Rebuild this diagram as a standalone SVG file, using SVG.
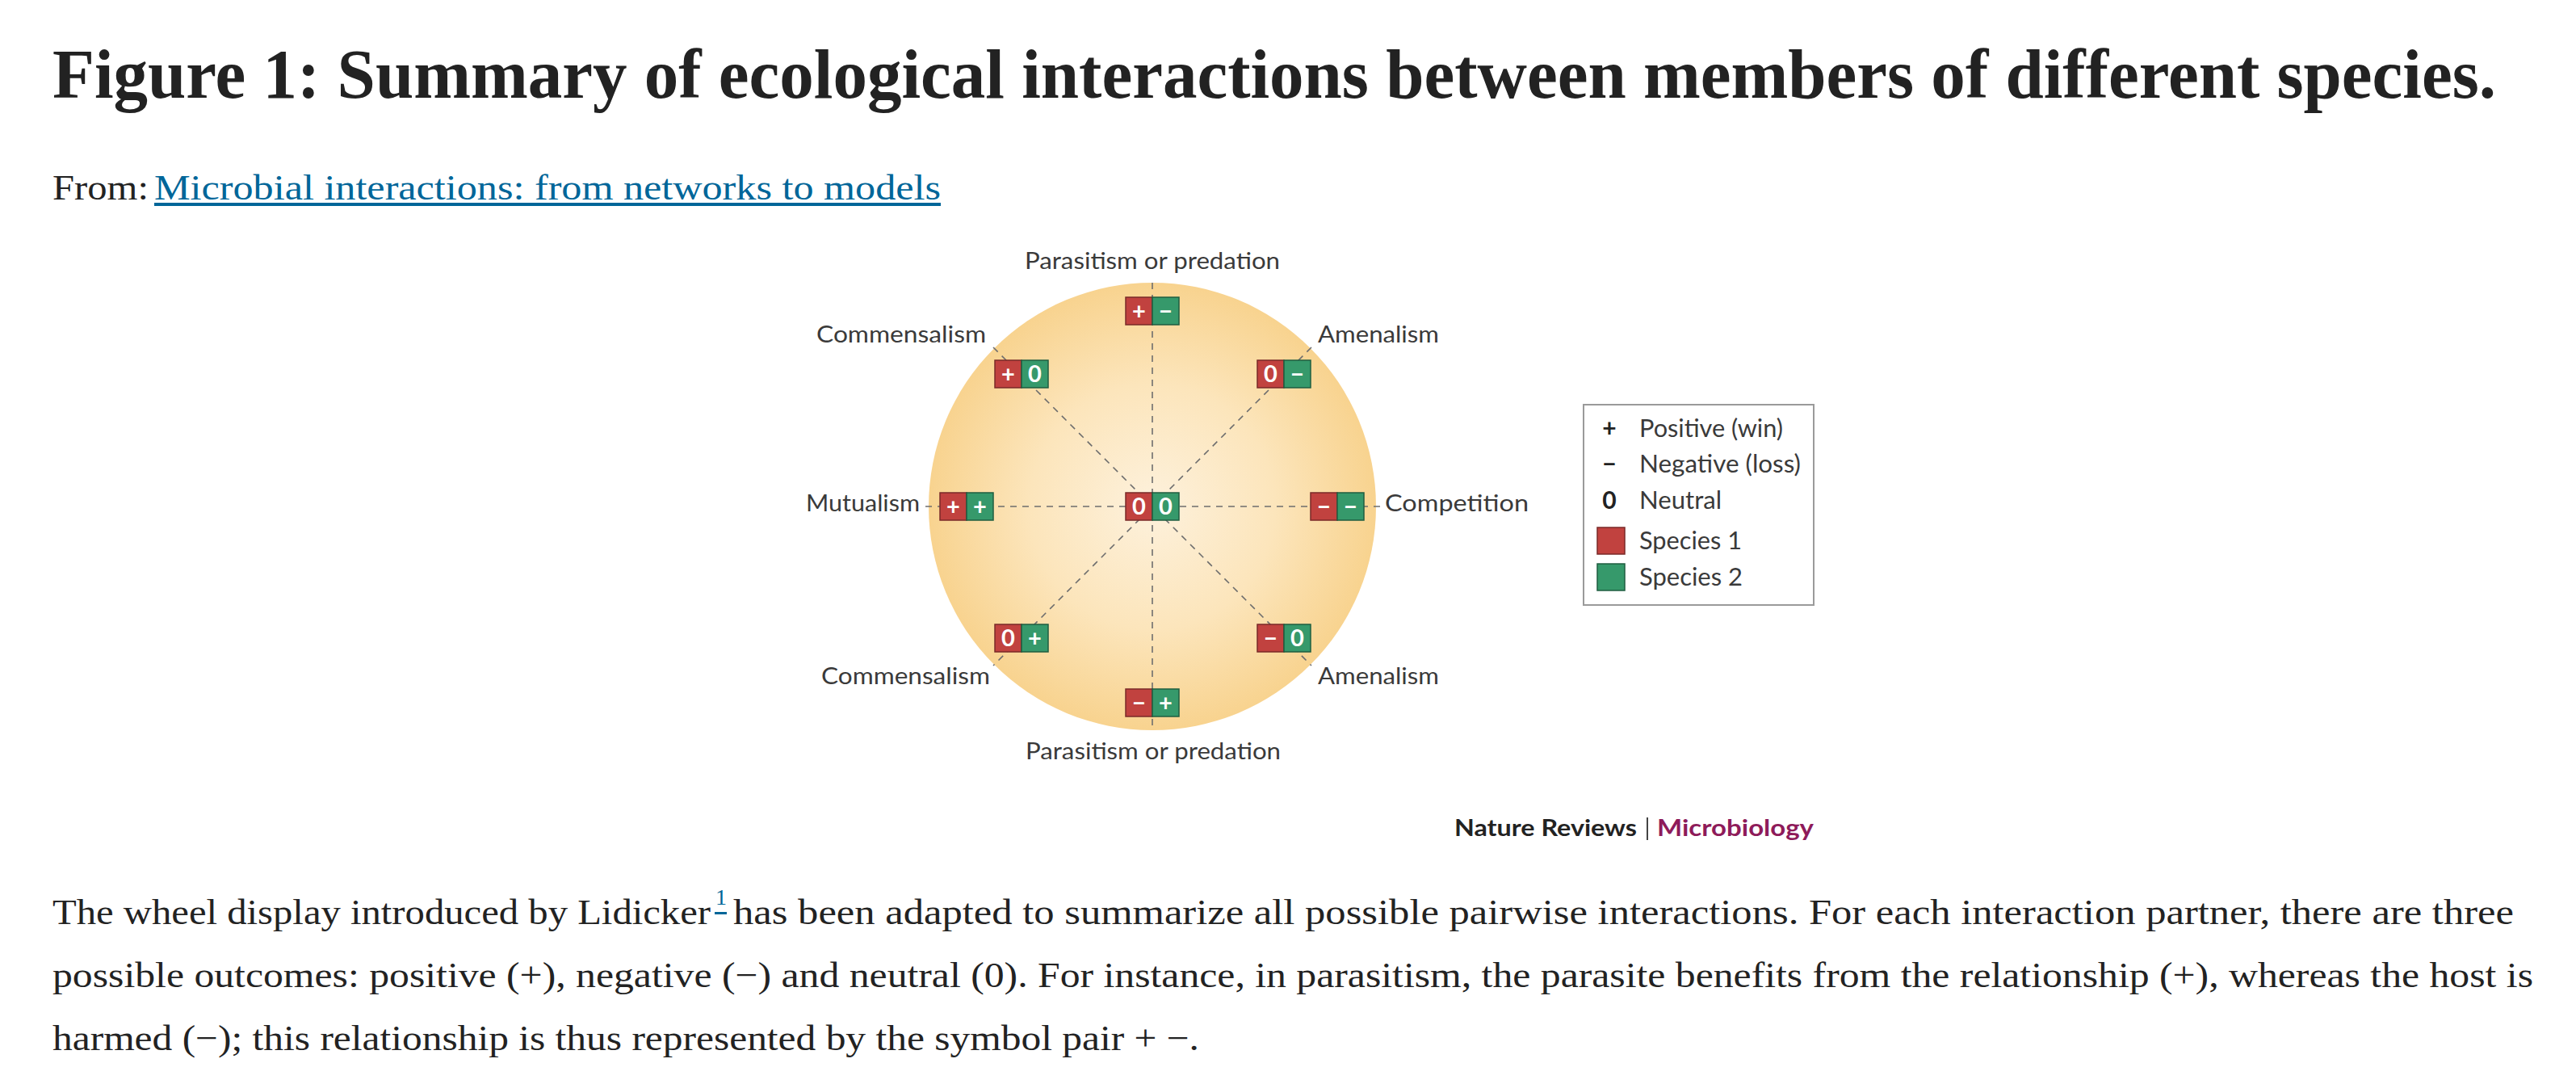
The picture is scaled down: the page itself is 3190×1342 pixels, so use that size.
<svg xmlns="http://www.w3.org/2000/svg" width="3190" height="1342" viewBox="0 0 3190 1342">
<defs>
<radialGradient id="wheelGrad" cx="0.5" cy="0.5" r="0.5">
<stop offset="0" stop-color="#fdf1dc"/>
<stop offset="0.55" stop-color="#fce5bb"/>
<stop offset="1" stop-color="#f8d38f"/>
</radialGradient>
<style>
.title{font-family:"Liberation Serif",serif;font-weight:bold;font-size:86px;fill:#222}
.from{font-family:"Liberation Serif",serif;font-size:45px;fill:#222}
.link{font-family:"Liberation Serif",serif;font-size:45px;fill:#006699}
.body{font-family:"Liberation Serif",serif;font-size:44px;fill:#222}
.sup{font-family:"Liberation Serif",serif;font-size:28px;fill:#006699}
.lbl{font-family:Lato,"Open Sans",sans-serif;font-size:29px;fill:#3a3a3a}
.leg{font-family:Lato,"Open Sans",sans-serif;font-size:30px;fill:#3a3a3a}
.legsym{font-family:Lato,"Open Sans",sans-serif;font-size:30px;font-weight:bold;fill:#222}
.sp1{fill:#c1423f;stroke:#7a2a28;stroke-width:1.5}
.sp2{fill:#36996b;stroke:#1f5e40;stroke-width:1.5}
.sym{font-family:Lato,"Open Sans",sans-serif;font-size:29px;font-weight:bold;fill:#ffffff;text-anchor:middle}
.dash{stroke:#6e6e6e;stroke-width:1.6;stroke-dasharray:8 7;fill:none}
.credit{font-family:Lato,"Open Sans",sans-serif;font-size:29px;font-weight:bold}
</style>
</defs>
<rect width="3190" height="1342" fill="#ffffff"/>

<g id="header">
<text class="title" x="65" y="121" textLength="3026" lengthAdjust="spacingAndGlyphs">Figure 1: Summary of ecological interactions between members of different species.</text>
<text class="from" x="65" y="247" textLength="119" lengthAdjust="spacingAndGlyphs">From:</text>
<text class="link" x="191" y="247" textLength="974" lengthAdjust="spacingAndGlyphs">Microbial interactions: from networks to models</text>
<rect x="191" y="251" width="974" height="4" fill="#006699"/>
</g>

<circle id="wheel" cx="1427" cy="627" r="277" fill="url(#wheelGrad)"/>

<g id="connectors">
<line class="dash" x1="1427" y1="350" x2="1427" y2="904"/>
<line class="dash" x1="1146" y1="627" x2="1711" y2="627"/>
<line class="dash" x1="1230" y1="430" x2="1624" y2="824"/>
<line class="dash" x1="1624" y1="430" x2="1230" y2="824"/>
</g>

<g id="node-parasitism-top">
<rect class="sp1" x="1394" y="368" width="33" height="34"/><rect class="sp2" x="1427" y="368" width="33" height="34"/>
<text class="sym" x="1410.5" y="395">+</text><text class="sym" x="1443.5" y="395">−</text>
<text class="lbl" x="1269" y="333" textLength="316" lengthAdjust="spacingAndGlyphs">Parasitism or predation</text>
</g>
<g id="node-commensalism-top">
<rect class="sp1" x="1232" y="446" width="33" height="34"/><rect class="sp2" x="1265" y="446" width="33" height="34"/>
<text class="sym" x="1248.5" y="473">+</text><text class="sym" x="1281.5" y="473">0</text>
<text class="lbl" x="1011" y="424" textLength="210" lengthAdjust="spacingAndGlyphs">Commensalism</text>
</g>
<g id="node-amenalism-top">
<rect class="sp1" x="1557" y="446" width="33" height="34"/><rect class="sp2" x="1590" y="446" width="33" height="34"/>
<text class="sym" x="1573.5" y="473">0</text><text class="sym" x="1606.5" y="473">−</text>
<text class="lbl" x="1632" y="424" textLength="150" lengthAdjust="spacingAndGlyphs">Amenalism</text>
</g>
<g id="node-mutualism">
<rect class="sp1" x="1164" y="610" width="33" height="34"/><rect class="sp2" x="1197" y="610" width="33" height="34"/>
<text class="sym" x="1180.5" y="637">+</text><text class="sym" x="1213.5" y="637">+</text>
<text class="lbl" x="998" y="633" textLength="141" lengthAdjust="spacingAndGlyphs">Mutualism</text>
</g>
<g id="node-neutral-center">
<rect class="sp1" x="1394" y="610" width="33" height="34"/><rect class="sp2" x="1427" y="610" width="33" height="34"/>
<text class="sym" x="1410.5" y="637">0</text><text class="sym" x="1443.5" y="637">0</text>
</g>
<g id="node-competition">
<rect class="sp1" x="1623" y="610" width="33" height="34"/><rect class="sp2" x="1656" y="610" width="33" height="34"/>
<text class="sym" x="1639.5" y="637">−</text><text class="sym" x="1672.5" y="637">−</text>
<text class="lbl" x="1715" y="633" textLength="178" lengthAdjust="spacingAndGlyphs">Competition</text>
</g>
<g id="node-commensalism-bottom">
<rect class="sp1" x="1232" y="773" width="33" height="34"/><rect class="sp2" x="1265" y="773" width="33" height="34"/>
<text class="sym" x="1248.5" y="800">0</text><text class="sym" x="1281.5" y="800">+</text>
<text class="lbl" x="1017" y="847" textLength="209" lengthAdjust="spacingAndGlyphs">Commensalism</text>
</g>
<g id="node-amenalism-bottom">
<rect class="sp1" x="1557" y="773" width="33" height="34"/><rect class="sp2" x="1590" y="773" width="33" height="34"/>
<text class="sym" x="1573.5" y="800">−</text><text class="sym" x="1606.5" y="800">0</text>
<text class="lbl" x="1632" y="847" textLength="150" lengthAdjust="spacingAndGlyphs">Amenalism</text>
</g>
<g id="node-parasitism-bottom">
<rect class="sp1" x="1394" y="853" width="33" height="34"/><rect class="sp2" x="1427" y="853" width="33" height="34"/>
<text class="sym" x="1410.5" y="880">−</text><text class="sym" x="1443.5" y="880">+</text>
<text class="lbl" x="1270" y="940" textLength="316" lengthAdjust="spacingAndGlyphs">Parasitism or predation</text>
</g>

<g id="legend">
<rect x="1961" y="501" width="285" height="248" fill="#ffffff" stroke="#9a9a9a" stroke-width="2"/>
<text class="legsym" x="1993" y="541" text-anchor="middle">+</text>
<text class="leg" x="2030" y="541" textLength="178" lengthAdjust="spacingAndGlyphs">Positive (win)</text>
<text class="legsym" x="1993" y="585" text-anchor="middle">−</text>
<text class="leg" x="2030" y="585" textLength="200" lengthAdjust="spacingAndGlyphs">Negative (loss)</text>
<text class="legsym" x="1993" y="630" text-anchor="middle">0</text>
<text class="leg" x="2030" y="630" textLength="102" lengthAdjust="spacingAndGlyphs">Neutral</text>
<rect class="sp1" x="1978" y="653" width="34" height="33"/>
<text class="leg" x="2030" y="680" textLength="127" lengthAdjust="spacingAndGlyphs">Species 1</text>
<rect class="sp2" x="1978" y="698" width="34" height="33"/>
<text class="leg" x="2030" y="725" textLength="128" lengthAdjust="spacingAndGlyphs">Species 2</text>
</g>

<g id="credit">
<text class="credit" x="1801" y="1035" fill="#222" textLength="226" lengthAdjust="spacingAndGlyphs">Nature Reviews</text>
<rect x="2039" y="1012" width="2" height="28" fill="#444"/>
<text class="credit" x="2052" y="1035" fill="#8e1b5a" textLength="194" lengthAdjust="spacingAndGlyphs">Microbiology</text>
</g>

<g id="caption">
<text class="body" x="65" y="1144" textLength="815" lengthAdjust="spacingAndGlyphs">The wheel display introduced by Lidicker</text>
<text class="sup" x="886" y="1120">1</text>
<rect x="885" y="1129" width="15" height="3" fill="#006699"/>
<text class="body" x="908" y="1144" textLength="2205" lengthAdjust="spacingAndGlyphs">has been adapted to summarize all possible pairwise interactions. For each interaction partner, there are three</text>
<text class="body" x="65" y="1222" textLength="3072" lengthAdjust="spacingAndGlyphs">possible outcomes: positive (+), negative (−) and neutral (0). For instance, in parasitism, the parasite benefits from the relationship (+), whereas the host is</text>
<text class="body" x="65" y="1300" textLength="1420" lengthAdjust="spacingAndGlyphs">harmed (−); this relationship is thus represented by the symbol pair + −.</text>
</g>
</svg>
